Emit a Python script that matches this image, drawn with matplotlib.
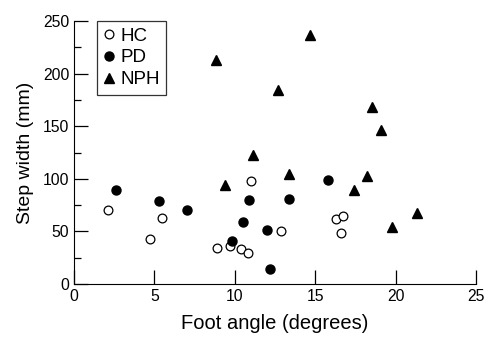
import matplotlib
matplotlib.use('Agg')
import matplotlib.pyplot as plt
from matplotlib.ticker import MultipleLocator

plt.rcParams['font.family'] = ['Liberation Sans', 'DejaVu Sans']

# Healthy controls
hc_x = [2.1, 4.7, 5.5, 8.9, 9.7, 10.4, 10.8, 11.0, 12.9, 16.3, 16.7, 16.6]
hc_y = [70, 43, 63, 34, 36, 33, 30, 98, 50, 62, 65, 49]

# Parkinson's disease
pd_x = [2.6, 5.3, 7.0, 9.8, 10.5, 10.9, 12.0, 12.2, 13.4, 15.8]
pd_y = [89, 79, 70, 41, 59, 80, 51, 14, 81, 99]

# Normal pressure hydrocephalus
nph_x = [8.8, 9.4, 11.1, 12.7, 13.4, 14.7, 17.4, 18.2, 18.5, 19.1, 19.8, 21.3]
nph_y = [213, 94, 123, 184, 105, 237, 89, 103, 168, 146, 54, 68]

fig = plt.figure(figsize=(4.85, 3.37), dpi=100)
ax = fig.add_axes([0.1526, 0.157, 0.8289, 0.7807])

ax.plot(hc_x, hc_y, 'o', mfc='white', mec='black', mew=0.9, ms=6.3, label='HC', clip_on=False)
ax.plot(pd_x, pd_y, 'o', mfc='black', mec='black', ms=6.5, label='PD', clip_on=False)
ax.plot(nph_x, nph_y, '^', mfc='black', mec='black', ms=7.5, label='NPH', clip_on=False)

ax.set_xlim(0, 25)
ax.set_ylim(0, 250)
ax.xaxis.set_major_locator(MultipleLocator(5))
ax.yaxis.set_major_locator(MultipleLocator(50))
ax.yaxis.set_minor_locator(MultipleLocator(25))
ax.spines['top'].set_visible(False)
ax.spines['right'].set_visible(False)
ax.tick_params(which='major', direction='in', length=10, width=0.9, labelsize=11.3, pad=3.5)
ax.tick_params(which='minor', direction='in', length=5, width=0.9)

ax.set_xlabel('Foot angle (degrees)', fontsize=14.5, labelpad=7)
ax.set_ylabel('Step width (mm)', fontsize=14, labelpad=6)

leg = ax.legend(loc='upper left', bbox_to_anchor=(0.057, 1.0), fontsize=13.5, frameon=True,
                fancybox=False, edgecolor='black', handlelength=0.6, handletextpad=0.3,
                borderpad=0.35, labelspacing=0.25, markerscale=1.0, borderaxespad=0.0)
leg.get_frame().set_linewidth(0.9)

fig.savefig('out.png', dpi=100)
